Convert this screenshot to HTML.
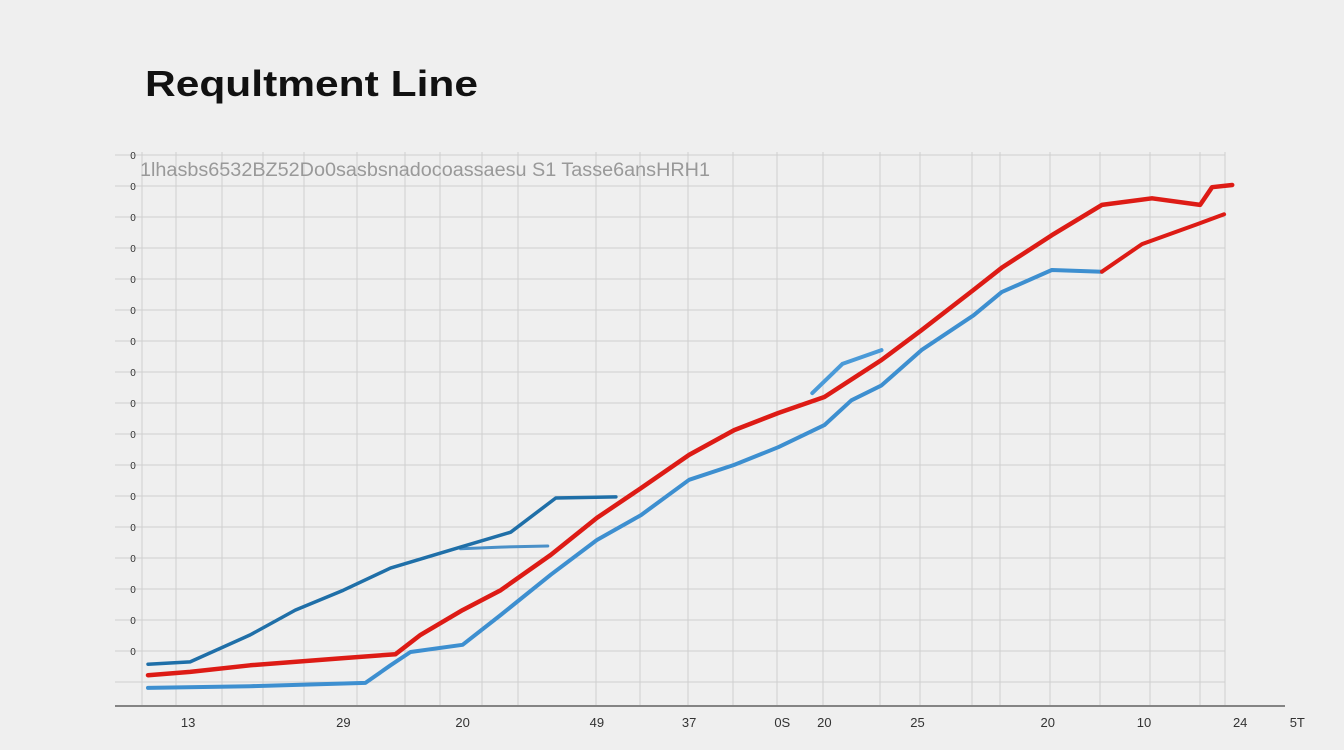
<!DOCTYPE html>
<html><head><meta charset="utf-8"><style>
html,body{margin:0;padding:0;background:#efefef;}
svg{display:block;font-family:"Liberation Sans",sans-serif;}
</style></head><body>
<svg id="chart" width="1344" height="750" viewBox="0 0 1344 750">
<rect width="1344" height="750" fill="#efefef"/>
<text x="145" y="96" font-size="36" font-weight="bold" fill="#111" textLength="333" lengthAdjust="spacingAndGlyphs">Requltment Line</text>
<g id="grid"></g>
<text x="140" y="176" font-size="19" fill="#999" textLength="570" lengthAdjust="spacingAndGlyphs">1lhasbs6532BZ52Do0sasbsnadocoassaesu S1 Tasse6ansHRH1</text>
<g id="series"></g>
<g id="xticks"></g>
<g id="yticks"></g>
</svg>
<script>
const xTickLabels=["13","29","20","49","37","0S","20","25","20","10","24","5T"];
const xTickValues=[4,19.5,31.4,44.8,54,63.3,67.5,76.8,89.8,99.4,109,114.7];
const yTickLabels=["0","0","0","0","0","0","0","0","0","0","0","0","0","0","0","0","0"];
const redX=[0,4.2,10.2,19.5,24.7,27.2,31.4,35.2,40.2,44.8,49.2,54,58.5,62.9,67.5,73.2,77.2,82.4,85.2,90.2,95.2,100.2,105,106.2,108.2];
const redY=[5.4,6,7.2,8.5,9.2,12.7,17.2,20.8,27.2,33.9,39.3,45.3,49.8,52.9,55.8,62.5,67.9,75.2,79.2,85.1,90.6,91.8,90.6,93.8,94.2];
const red2X=[95.2,99.2,104.7,107.4];
const red2Y=[78.5,83.5,87.1,88.9];
const blueUpperX=[0,4.2,10.2,14.7,19.5,24.2,31.2,36.2,40.7,46.7];
const blueUpperY=[7.4,7.8,12.7,17.2,20.8,24.8,28.6,31.3,37.5,37.7];
const blueLowerX=[0,10.2,21.7,24.2,26.2,31.4,35.2,40.2,44.8,49.2,54,58.5,62.9,67.5,70.2,73.2,77.2,82.4,85.2,90.2,95.2];
const blueLowerY=[3.1,3.4,4,7.2,9.6,10.9,16.3,23.6,29.9,34.4,40.8,43.5,46.7,50.7,55.2,57.9,64.3,70.6,74.8,78.8,78.5];
const blueAltX=[31.2,35.2,39.9];
const blueAltY=[28.3,28.6,28.8];
const blueBumpX=[66.3,69.3,73.2];
const blueBumpY=[56.5,61.8,64.3];
</script>
<script>
const NS="http://www.w3.org/2000/svg";
const X0=148,XW=10.02,Y0=705,YH=5.52;
function sx(v){return X0+v*XW;}
function sy(v){return Y0-v*YH;}
function mk(tag,attrs,parent){const e=document.createElementNS(NS,tag);for(const k in attrs)e.setAttribute(k,attrs[k]);parent.appendChild(e);return e;}
const grid=document.getElementById('grid');
const vx=[142,176,222,263,304,357,405,440,482,518,596,640,688,733,777,823,880,920,972,1000,1050,1100,1150,1200,1225];
vx.forEach(x=>{const l=mk('line',{x1:x,x2:x,y1:152,y2:705,stroke:'#cfcfcf','stroke-width':1},grid);

});
for(let i=0;i<18;i++){const y=155+i*31;const l=mk('line',{x1:115,x2:1225,y1:y,y2:y,stroke:'#cfcfcf','stroke-width':1},grid);

}
const ax=mk('line',{x1:115,x2:1285,y1:706,y2:706,stroke:'#444','stroke-width':1.2},grid);


const ser=document.getElementById('series');
function line(xs,ys,color,w,name){
 const d=xs.map((x,i)=>(i?'L':'M')+sx(x).toFixed(1)+','+sy(ys[i]).toFixed(1)).join(' ');
 const p=mk('path',{d:d,fill:'none',stroke:color,'stroke-width':w,'stroke-linejoin':'round','stroke-linecap':'round'},ser);
 
 
}
line(blueAltX,blueAltY,'#4a90c8',3,'blue-alt-line');
line(blueUpperX,blueUpperY,'#1f6fa8',3.5,'blue-upper-line');
line(blueLowerX,blueLowerY,'#3d8fd0',4,'blue-lower-line');
line(blueBumpX,blueBumpY,'#4a9ad8',4,'blue-bump-line');
line(redX,redY,'#dd1b15',4.5,'red-line');
line(red2X,red2Y,'#dd1b15',4,'red-branch-line');
const xt=document.getElementById('xticks');
xTickLabels.forEach((t,i)=>{const e=mk('text',{x:sx(xTickValues[i]),y:727,'font-size':13,'text-anchor':'middle',fill:'#333'},xt);e.textContent=t;

});
const yt=document.getElementById('yticks');
yTickLabels.forEach((t,i)=>{const e=mk('text',{x:133,y:155+i*31+4,'font-size':10,'text-anchor':'middle',fill:'#333'},yt);e.textContent=t;

});
</script>
</body></html>
